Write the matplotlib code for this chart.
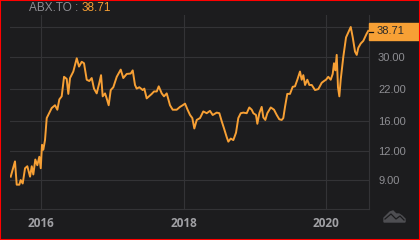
import matplotlib
matplotlib.use("Agg")
import matplotlib.pyplot as plt
from matplotlib.patches import Rectangle, Polygon
from matplotlib.ticker import NullLocator, FixedLocator, FixedFormatter

# ---- data (decimal years, price in CAD) ----
years = [2015.575, 2015.635, 2015.659, 2015.696, 2015.715, 2015.743, 2015.776, 2015.808,
         2015.846, 2015.870, 2015.892, 2015.920, 2015.948, 2015.976, 2015.996, 2016.014,
         2016.032, 2016.056, 2016.080, 2016.150, 2016.196, 2016.229, 2016.257, 2016.290,
         2016.323, 2016.360, 2016.383, 2016.407, 2016.453, 2016.501, 2016.533, 2016.571,
         2016.603, 2016.641, 2016.677, 2016.711, 2016.743, 2016.781, 2016.818, 2016.842,
         2016.865, 2016.898, 2016.921, 2016.949, 2016.978, 2017.014, 2017.062, 2017.118,
         2017.154, 2017.202, 2017.258, 2017.286, 2017.318, 2017.342, 2017.379, 2017.426,
         2017.449, 2017.482, 2017.515, 2017.553, 2017.585, 2017.623, 2017.651, 2017.693,
         2017.725, 2017.763, 2017.809, 2017.847, 2017.903, 2017.949, 2017.987, 2018.020,
         2018.052, 2018.090, 2018.122, 2018.150, 2018.184, 2018.230, 2018.276, 2018.324,
         2018.370, 2018.408, 2018.464, 2018.501, 2018.534, 2018.567, 2018.604, 2018.627,
         2018.661, 2018.697, 2018.735, 2018.767, 2018.801, 2018.837, 2018.885, 2018.921,
         2018.955, 2018.978, 2019.015, 2019.034, 2019.062, 2019.095, 2019.118, 2019.146,
         2019.174, 2019.222, 2019.268, 2019.306, 2019.342, 2019.376, 2019.398, 2019.422,
         2019.454, 2019.492, 2019.530, 2019.562, 2019.595, 2019.632, 2019.656, 2019.679,
         2019.703, 2019.735, 2019.763, 2019.797, 2019.843, 2019.889, 2019.937, 2019.969,
         2019.997, 2020.029, 2020.063, 2020.091, 2020.109, 2020.128, 2020.147, 2020.165,
         2020.184, 2020.203, 2020.240, 2020.278, 2020.310, 2020.344, 2020.372, 2020.404,
         2020.428, 2020.450, 2020.484, 2020.520, 2020.568, 2020.590]
prices = [9.3, 10.8, 8.6, 8.6, 9.0, 8.7, 10.1, 10.3,
          9.3, 10.3, 9.5, 11.0, 10.4, 11.3, 10.1, 12.7,
          12.1, 13.3, 16.5, 18.2, 18.7, 17.9, 19.8, 20.4,
          24.7, 24.2, 20.9, 24.4, 26.0, 29.6, 27.3, 28.6,
          28.2, 24.0, 23.7, 24.4, 22.0, 21.0, 23.3, 25.1,
          20.4, 21.0, 20.0, 18.7, 21.7, 22.3, 24.7, 26.5,
          24.4, 25.4, 25.5, 26.3, 22.8, 22.0, 22.3, 21.7,
          22.0, 20.0, 20.4, 20.9, 21.4, 21.4, 22.5, 21.0,
          20.4, 21.0, 18.7, 17.9, 17.9, 18.4, 18.7, 19.0,
          18.0, 17.0, 16.5, 14.9, 16.2, 16.5, 17.6, 17.3,
          17.7, 17.0, 17.4, 17.3, 16.0, 14.9, 13.7, 13.1,
          13.5, 13.3, 14.3, 16.5, 17.3, 17.4, 17.3, 18.3,
          17.9, 17.3, 17.0, 15.6, 17.3, 18.4, 16.6, 16.2,
          17.3, 18.3, 17.9, 17.0, 16.3, 16.2, 16.5, 18.4,
          20.9, 20.9, 22.4, 22.5, 24.0, 26.0, 24.0, 25.1,
          22.8, 24.0, 22.8, 22.8, 21.7, 21.9, 23.3, 23.7,
          24.0, 24.7, 24.0, 25.4, 28.2, 26.3, 30.6, 22.3,
          20.4, 24.0, 30.1, 36.3, 38.1, 40.2, 36.3, 31.6,
          30.6, 32.8, 34.2, 35.1, 37.7, 38.71]
y_ticks = [9, 12, 16, 22, 30, 40]
y_labels = ["9.00", "12.00", "16.00", "22.00", "30.00", ""]
x_ticks = [2016, 2018, 2020]
x_labels = ["2016", "2018", "2020"]
ticker_name = "ABX.TO"
last_price = "38.71"

# ---- style ----
BG = "#1c1c1e"
GRID = "#333336"
LABEL = "#8e8e93"
ORANGE = "#f7a035"
W, H = 420, 240

fig = plt.figure(figsize=(4.2, 2.4), dpi=100, facecolor=BG)
ax = fig.add_axes([10 / W, 1 - 209 / H, 359 / W, 194 / H])
ax.set_facecolor(BG)
ax.plot(years, prices, color=ORANGE, lw=1.4, solid_joinstyle="round")
ax.set_yscale("log")
ax.set_ylim(6.78, 45.2)
ax.set_xlim(2015.565, 2020.600)

ax.yaxis.set_major_locator(FixedLocator(y_ticks))
ax.yaxis.set_major_formatter(FixedFormatter(y_labels))
ax.yaxis.set_minor_locator(NullLocator())
ax.xaxis.set_major_locator(FixedLocator(x_ticks))
ax.xaxis.set_major_formatter(FixedFormatter(x_labels))
ax.yaxis.tick_right()
ax.tick_params(axis="y", length=0, pad=6.5, labelsize=8, labelcolor=LABEL)
ax.tick_params(axis="x", length=0, pad=6, labelcolor="#a0a0a4")
for t in ax.get_yticklabels():
    t.set_fontfamily("Liberation Sans")
for t in ax.get_xticklabels():
    t.set_fontfamily("Open Sans")
    t.set_fontweight("bold")
    t.set_fontsize(8.5)
ax.grid(True, color=GRID, lw=0.8)
ax.set_axisbelow(True)
for s in ["top", "left"]:
    ax.spines[s].set_visible(False)
ax.spines["bottom"].set_color(GRID)
ax.spines["right"].set_color(GRID)
ax.spines["bottom"].set_linewidth(0.8)
ax.spines["right"].set_linewidth(0.8)

# title
fig.text(29 / W, 1 - 11 / H, ticker_name + " :", color=LABEL, fontsize=8.5,
         family="Liberation Sans", va="baseline")
fig.text(82 / W, 1 - 11 / H, last_price, color=ORANGE, fontsize=8.5,
         family="Liberation Sans", va="baseline")

# price tag
fig.patches.append(Rectangle((369 / W, 1 - 40 / H), 51 / W, 17 / H,
                             transform=fig.transFigure, color=ORANGE, zorder=5))
fig.lines.append(plt.Line2D([369 / W, 373 / W], [1 - 32 / H, 1 - 32 / H],
                            transform=fig.transFigure, color="#111111", lw=0.9, zorder=6))
fig.text(377 / W, 1 - 31.5 / H, last_price, color="#2a2a2a", fontsize=8,
         family="Liberation Sans", va="center", zorder=7)

# icon (cloud with mountain line)
ICON = "#4e4e52"
def px(x, y):
    return (x / W, 1 - y / H)
cloud = Polygon([px(384, 222), px(384, 218), px(387, 215), px(390, 212), px(393, 211),
                 px(396, 214), px(399, 214), px(402, 216), px(405, 219), px(405, 222)],
                closed=True, transform=fig.transFigure, color=ICON, zorder=5)
fig.patches.append(cloud)
zig = [px(385, 219), px(391, 214), px(396, 219), px(400, 216), px(404, 220)]
fig.lines.append(plt.Line2D([p[0] for p in zig], [p[1] for p in zig],
                            transform=fig.transFigure, color=BG, lw=0.9, zorder=6))

# red frame
fig.patches.append(Rectangle((0, 0), 1, 1, transform=fig.transFigure, fill=False,
                             edgecolor="#ff0000", lw=1.5, zorder=10))

fig.savefig("out.png", dpi=100, facecolor=BG)
